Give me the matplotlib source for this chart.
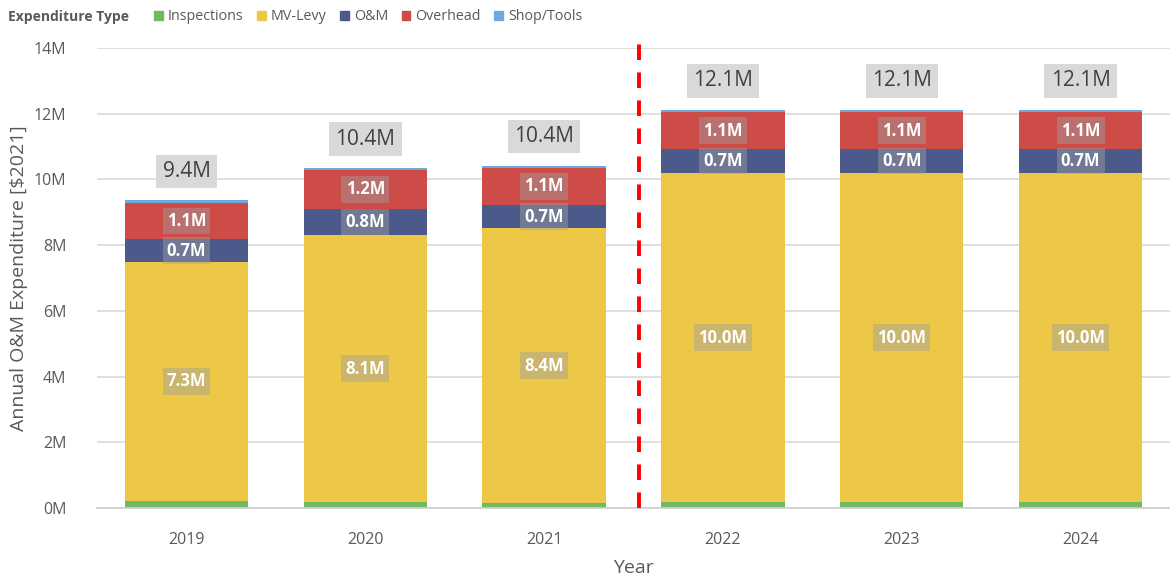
import matplotlib
matplotlib.use("Agg")
import matplotlib.pyplot as plt
import numpy as np
from matplotlib.patches import Patch

plt.rcParams['font.family'] = ['Open Sans', 'DejaVu Sans']

years = ['2019', '2020', '2021', '2022', '2023', '2024']
inspections = [0.21, 0.18, 0.15, 0.18, 0.18, 0.18]
mv_levy = [7.28, 8.13, 8.37, 10.01, 10.01, 10.01]
om = [0.69, 0.79, 0.70, 0.74, 0.74, 0.74]
overhead = [1.11, 1.19, 1.13, 1.11, 1.11, 1.11]
shop_tools = [0.07, 0.06, 0.07, 0.08, 0.08, 0.08]

series = [('Inspections', inspections, '#72b962'),
          ('MV-Levy', mv_levy, '#ecc846'),
          ('O&M', om, '#4b5a8b'),
          ('Overhead', overhead, '#cd4c48'),
          ('Shop/Tools', shop_tools, '#6fa9dd')]

grey = '#595959'

fig = plt.figure(figsize=(11.7, 5.77), dpi=100)
ax = fig.add_axes([0.083, 0.1196, 0.917, 0.7972])

x = np.arange(len(years))
bottom = np.zeros(len(years))
width = 0.69
for name, vals, col in series:
    vals = np.array(vals)
    ax.bar(x, vals, width, bottom=bottom, color=col, edgecolor='none', zorder=2)
    if name in ('MV-Levy', 'O&M', 'Overhead'):
        for xi, b, v in zip(x, bottom, vals):
            ax.text(xi, b + v / 2, '%.1fM' % v, ha='center', va='center',
                    color='white', fontsize=12, fontweight='bold', zorder=4,
                    bbox=dict(boxstyle='square,pad=0.25', fc='#a0a0a0',
                              ec='none', alpha=0.45))
    bottom = bottom + vals

for xi, tot in zip(x, bottom):
    ax.text(xi, tot + 0.88, '%.1fM' % tot, ha='center', va='center',
            color='#404040', fontsize=15, zorder=4,
            bbox=dict(boxstyle='square,pad=0.3', fc='#d9d9d9', ec='none'))

ax.axvline(2.53, ymin=0, ymax=1.01, color='#ff0000', lw=2.8,
           linestyle=(0, (4, 3.2)), zorder=3, clip_on=False)

ax.set_xlim(-0.5, 5.5)
ax.set_ylim(0, 14)
ax.set_yticks(np.arange(0, 15, 2))
ax.set_yticklabels(['%dM' % v for v in range(0, 15, 2)])
ax.set_xticks(x)
ax.set_xticklabels(years)
ax.tick_params(axis='both', length=0, colors=grey, labelsize=11.5)
ax.tick_params(axis='y', pad=22)
ax.tick_params(axis='x', pad=17)
ax.yaxis.grid(True, color='#d9d9d9', lw=1.2, zorder=0)
ax.set_axisbelow(True)
for s in ['top', 'right', 'left']:
    ax.spines[s].set_visible(False)
ax.spines['bottom'].set_color('#d0d0d0')
ax.spines['bottom'].set_linewidth(1.2)

ax.set_ylabel('Annual O&M Expenditure [\\$2021]', color=grey, fontsize=14, labelpad=4)
ax.set_xlabel('Year', color=grey, fontsize=14, labelpad=8)

fig.text(0.007, 0.971, 'Expenditure Type', fontsize=10, fontweight='bold',
         color=grey, va='center')
handles = [Patch(color=c, label=n) for n, v, c in series]
leg = fig.legend(handles=handles, loc='center left', bbox_to_anchor=(0.132, 0.971),
                 ncol=5, frameon=False, fontsize=10.3, handlelength=0.6,
                 handleheight=0.6, handletextpad=0.35, columnspacing=0.95,
                 borderaxespad=0, borderpad=0)
for t in leg.get_texts():
    t.set_color(grey)

fig.savefig('out.png', dpi=100)
